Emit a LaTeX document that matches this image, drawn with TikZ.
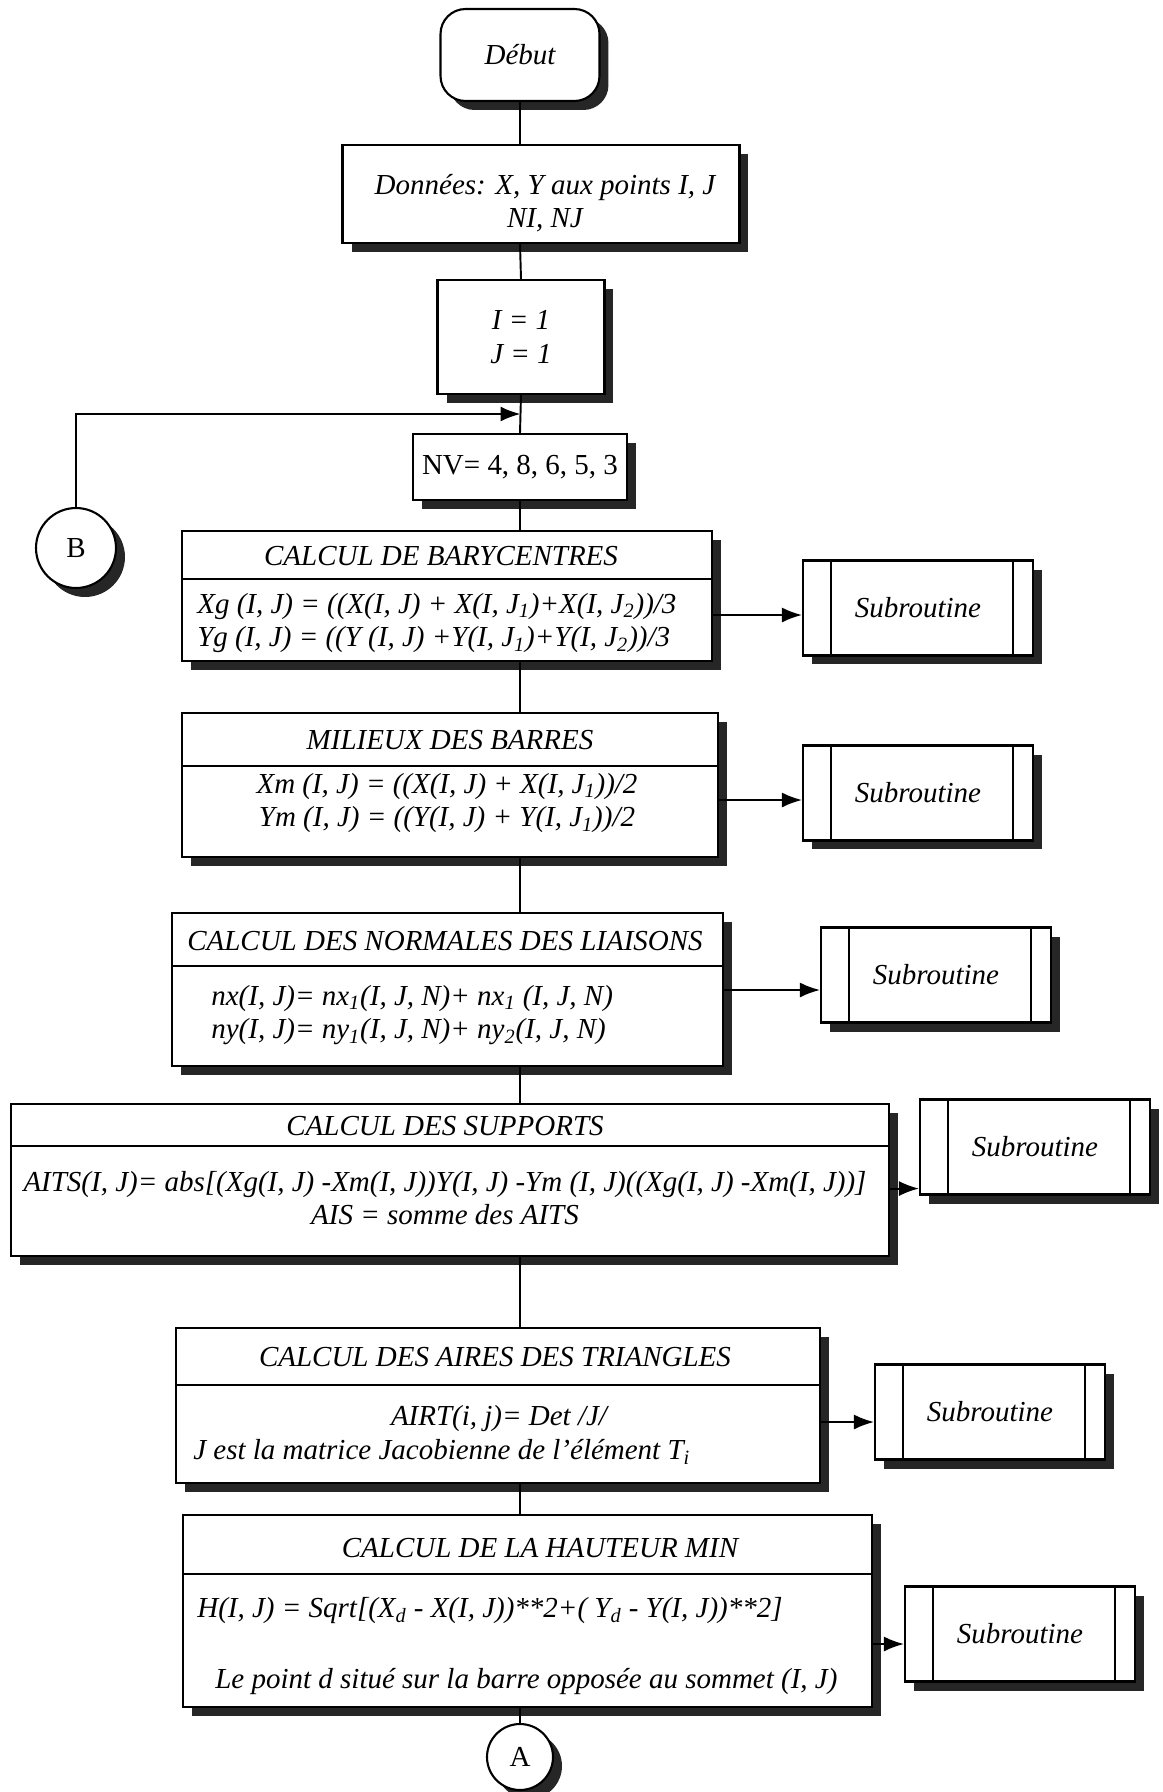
\documentclass[tikz,border=0pt]{standalone}
\usepackage{fontspec}
\setmainfont{Liberation Serif}
\usetikzlibrary{calc,shadows,arrows.meta}
\tikzset{
  fcbox/.style={draw,line width=1.2pt,fill=white,inner sep=0pt,align=center,
    drop shadow={shadow xshift=0.18cm,shadow yshift=-0.18cm,fill=black!85,opacity=1}},
  fcdebut/.style={fcbox,rounded corners=0.5cm},
  fcsub/.style={fcbox,minimum width=4.6cm,minimum height=1.9cm,
    path picture={
      \draw[line width=1.2pt] ([xshift=0.56cm]path picture bounding box.north west) -- ([xshift=0.56cm]path picture bounding box.south west);
      \draw[line width=1.2pt] ([xshift=-0.4cm]path picture bounding box.north east) -- ([xshift=-0.4cm]path picture bounding box.south east);}},
  fccirc/.style={fcbox,circle,font=\fontsize{16.5}{19}\selectfont\upshape},
  fctxt/.style={inner sep=0pt,align=left},
  fclink/.style={line width=1.1pt},
  fcarrow/.style={line width=1.1pt,-{Latex[length=4mm,width=3mm]}}
}

\begin{document}
\begin{tikzpicture}[x=0.02cm,y=-0.02cm,font=\fontsize{16.5}{19}\selectfont\itshape]
  \useasboundingbox (0,0) rectangle (1163,1792);

  \node [fcdebut,minimum width=3.18cm,minimum height=1.84cm] (debut) at (520,55) {Début};
  \node [fcbox,minimum width=7.94cm,minimum height=1.96cm]   (donn)  at (541,194) {};
  \node [fcbox,minimum width=3.34cm,minimum height=2.28cm]   (init)  at (521,337) {I = 1\\J = 1};
  \node [fcbox,minimum width=4.28cm,minimum height=1.32cm]   (nv)    at (520,467) {\upshape NV= 4, 8, 6, 5, 3};
  \node [fccirc,minimum size=1.6cm]  (B) at (76,548)  {B};
  \node [fccirc,minimum size=1.32cm] (A) at (520,1757) {A};

  \node [fcbox,minimum width=10.6cm,minimum height=2.6cm]   (bary)   at (447,596) {};
  \node [fcbox,minimum width=10.72cm,minimum height=2.88cm] (milieu) at (450,785) {};
  \node [fcbox,minimum width=11.02cm,minimum height=3.06cm] (normal) at (447.5,989.5) {};
  \node [fcbox,minimum width=17.56cm,minimum height=3.04cm] (supp)   at (450,1180) {};
  \node [fcbox,minimum width=12.88cm,minimum height=3.1cm]  (aires)  at (498,1405.5) {};
  \node [fcbox,minimum width=13.78cm,minimum height=3.84cm] (haut)   at (527.5,1611) {};

  \node [fcsub] (sub1) at (918,608)  {Subroutine};
  \node [fcsub] (sub2) at (918,793)  {Subroutine};
  \node [fcsub] (sub3) at (936,975)  {Subroutine};
  \node [fcsub] (sub4) at (1035,1147) {Subroutine};
  \node [fcsub] (sub5) at (990,1412) {Subroutine};
  \node [fcsub] (sub6) at (1020,1634) {Subroutine};

  \draw [fclink] (bary.west   |- 0,579)  -- (bary.east   |- 0,579);
  \draw [fclink] (milieu.west |- 0,766)  -- (milieu.east |- 0,766);
  \draw [fclink] (normal.west |- 0,966)  -- (normal.east |- 0,966);
  \draw [fclink] (supp.west   |- 0,1146) -- (supp.east   |- 0,1146);
  \draw [fclink] (aires.west  |- 0,1385) -- (aires.east  |- 0,1385);
  \draw [fclink] (haut.west   |- 0,1574) -- (haut.east   |- 0,1574);

  \node [fctxt,align=center] (donnT) at (545,203) {Données: X, Y aux points I, J\\NI, NJ};
  \node [fctxt] (baryT) at (441,556) {CALCUL DE BARYCENTRES};
  \node [fctxt,anchor=west] (baryE) at (197,623)
    {Xg (I, J) = ((X(I, J) + X(I, J\textsubscript{1})+X(I, J\textsubscript{2}))/3\\
     Yg (I, J) = ((Y (I, J) +Y(I, J\textsubscript{1})+Y(I, J\textsubscript{2}))/3};
  \node [fctxt] (milieuT) at (450,740) {MILIEUX DES BARRES};
  \node [fctxt,align=center] (milieuE) at (447,803)
    {Xm (I, J) = ((X(I, J) + X(I, J\textsubscript{1}))/2\\
     Ym (I, J) = ((Y(I, J) + Y(I, J\textsubscript{1}))/2};
  \node [fctxt] (normalT) at (445,941) {CALCUL DES NORMALES DES LIAISONS};
  \node [fctxt,anchor=west] (normalE) at (211,1015)
    {nx(I, J)= nx\textsubscript{1}(I, J, N)+ nx\textsubscript{1} (I, J, N)\\
     ny(I, J)= ny\textsubscript{1}(I, J, N)+ ny\textsubscript{2}(I, J, N)};
  \node [fctxt] (suppT) at (445,1126) {CALCUL DES SUPPORTS};
  \node [fctxt,align=center] (suppE) at (445,1198)
    {AITS(I, J)= abs[(Xg(I, J) -Xm(I, J))Y(I, J) -Ym (I, J)((Xg(I, J) -Xm(I, J))]\\
     AIS = somme des AITS};
  \node [fctxt] (airesT) at (495,1357) {CALCUL DES AIRES DES TRIANGLES};
  \node [fctxt] (airesE) at (499,1419) {AIRT(i, j)= Det /J/};
  \node [fctxt,anchor=west] (airesF) at (193,1452) {J est la matrice Jacobienne de l’élément T\textsubscript{i}};
  \node [fctxt] (hautT) at (540,1548) {CALCUL DE LA HAUTEUR MIN};
  \node [fctxt,anchor=west] (hautE) at (197,1611)
    {H(I, J) = Sqrt[(X\textsubscript{d} - X(I, J))**2+( Y\textsubscript{d} - Y(I, J))**2]};
  \node [fctxt,anchor=west] (hautF) at (215,1681) {Le point d situé sur la barre opposée au sommet (I, J)};

  \coordinate (join) at ($(init.south)!0.5!(nv.north)$);
  \draw [fclink] (debut.south) -- (debut.south |- donn.north);
  \draw [fclink] (debut.south |- donn.south) -- (init.north);
  \draw [fclink] (init.south) -- (nv.north);
  \draw [fcarrow] (B.north) |- (join);
  \draw [fclink] (nv.south) -- (nv.south |- bary.north);
  \draw [fclink] (nv.south |- bary.south) -- (nv.south |- milieu.north);
  \draw [fclink] (nv.south |- milieu.south) -- (nv.south |- normal.north);
  \draw [fclink] (nv.south |- normal.south) -- (nv.south |- supp.north);
  \draw [fclink] (nv.south |- supp.south) -- (nv.south |- aires.north);
  \draw [fclink] (nv.south |- aires.south) -- (nv.south |- haut.north);
  \draw [fclink] (A.north |- haut.south) -- (A.north);

  \draw [fcarrow] ([yshift=-0.14cm]sub1.west -| bary.east)   -- ([yshift=-0.14cm]sub1.west);
  \draw [fcarrow] ([yshift=-0.14cm]sub2.west -| milieu.east) -- ([yshift=-0.14cm]sub2.west);
  \draw [fcarrow] ([yshift=-0.3cm]sub3.west -| normal.east)  -- ([yshift=-0.3cm]sub3.west);
  \draw [fcarrow] ([yshift=0.14cm]sub4.south west -| supp.east) -- ([yshift=0.14cm]sub4.south west);
  \draw [fcarrow] ([yshift=-0.2cm]sub5.west -| aires.east)   -- ([yshift=-0.2cm]sub5.west);
  \draw [fcarrow] ([yshift=-0.2cm]sub6.west -| haut.east)    -- ([yshift=-0.2cm]sub6.west);
\end{tikzpicture}
\end{document}
